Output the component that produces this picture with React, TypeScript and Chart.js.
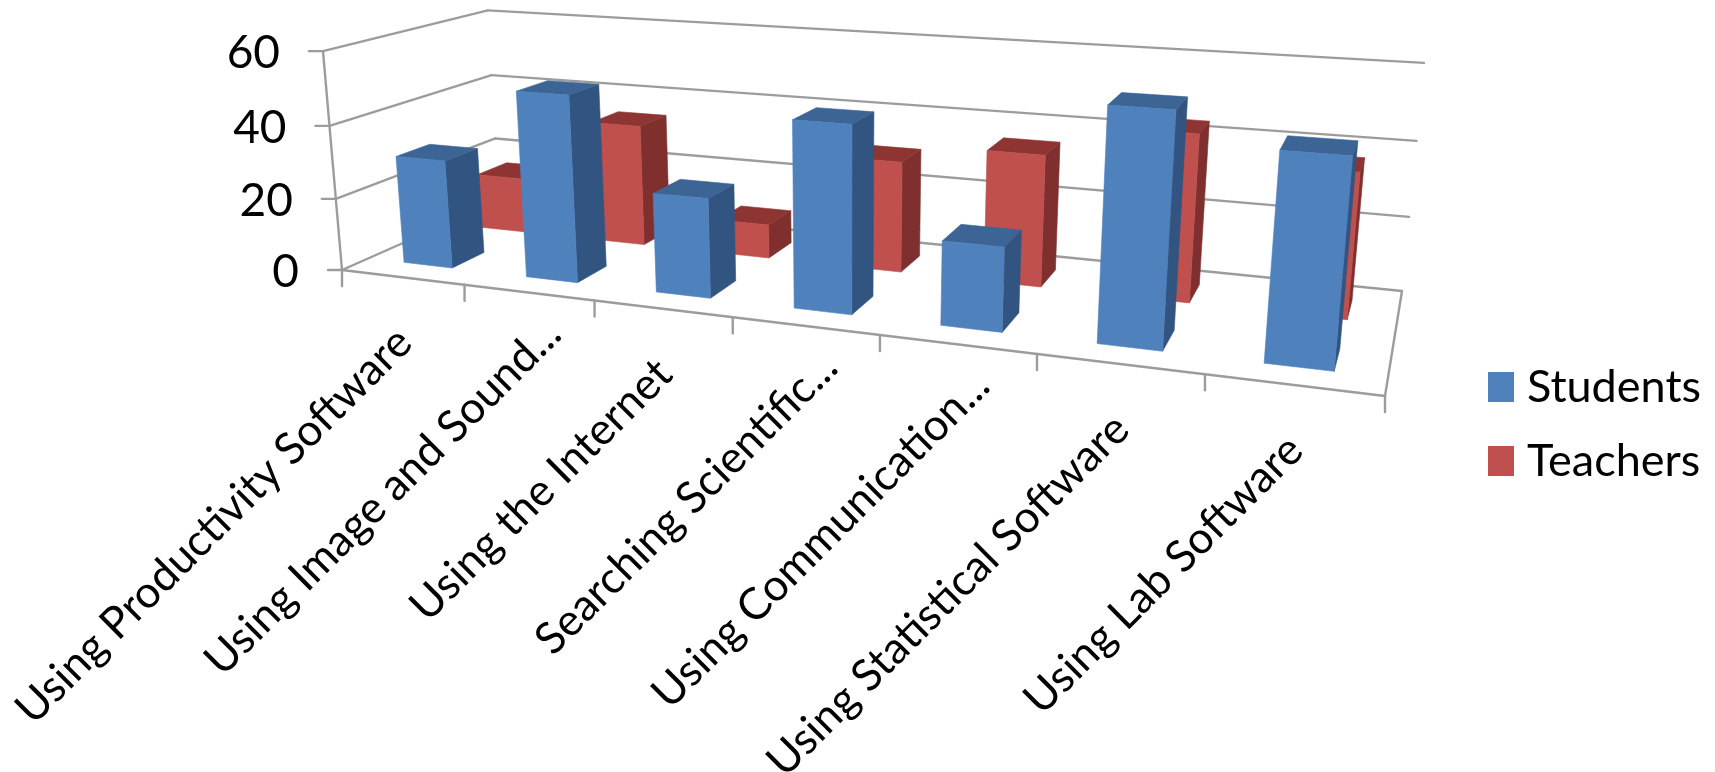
import React, { useEffect, useRef } from "react";
import { Chart, registerables } from "chart.js";

Chart.register(...registerables);

// Survey categories and the two series, percent on a 0-60 axis.
const categories = [
  "Using Productivity Software",
  "Using Image and Sound...",
  "Using the Internet",
  "Searching Scientific...",
  "Using Communication...",
  "Using Statistical Software",
  "Using Lab Software",
];
const students = [30, 50.5, 26.5, 48.5, 21.5, 57.5, 50];
const teachers = [16, 34.5, 9.5, 30.5, 35.5, 44, 37.5];
const yTicks = { min: 0, max: 60, step: 20 };

const FONT = "Lato";
const BLUE = { front: "#4F81BD", side: "#325480", top: "#3C6494" };
const RED = { front: "#C0504D", side: "#7F302E", top: "#8E3533" };
const AXIS = "#9C9C9C";

type P = [number, number];

// Camera: floor corners on screen (front-left, front-right, back-right,
// back-left), the vanishing point of the verticals and the height weight.
const FLOOR: P[] = [[342, 270], [1385, 396], [1402, 291], [499, 200.5]];
const VERTICAL_VP: P = [845, 6064];
const HEIGHT_W = -0.0364;
// Depth slots (0 = front wall, 1 = back wall) of each series row.
const ROWS = [{ v0: 0.15, v1: 0.35 }, { v0: 0.635, v1: 0.84 }];

// Unit square to quadrilateral homography, in homogeneous coordinates.
function squareToQuad(q: P[]) {
  const [[x0, y0], [x1, y1], [x2, y2], [x3, y3]] = q;
  const dx1 = x1 - x2, dx2 = x3 - x2, sx = x0 - x1 + x2 - x3;
  const dy1 = y1 - y2, dy2 = y3 - y2, sy = y0 - y1 + y2 - y3;
  const det = dx1 * dy2 - dx2 * dy1;
  const g = (sx * dy2 - dx2 * sy) / det;
  const h = (dx1 * sy - sx * dy1) / det;
  const a = x1 - x0 + g * x1, b = x3 - x0 + h * x3;
  const d = y1 - y0 + g * y1, e = y3 - y0 + h * y3;
  return (u: number, v: number) => [a * u + b * v + x0, d * u + e * v + y0, g * u + h * v + 1];
}
const floorAt = squareToQuad(FLOOR);

// (u along the categories, v into the depth, w up the value axis) to canvas pixels.
function project(u: number, v: number, w: number): P {
  const [X, Y, k] = floorAt(u, v);
  const t = HEIGHT_W * w;
  return [(X + t * VERTICAL_VP[0]) / (k + t), (Y + t * VERTICAL_VP[1]) / (k + t)];
}

function poly(ctx: CanvasRenderingContext2D, pts: P[], fill: string) {
  ctx.beginPath();
  pts.forEach((p, i) => (i ? ctx.lineTo(p[0], p[1]) : ctx.moveTo(p[0], p[1])));
  ctx.closePath();
  ctx.fillStyle = fill;
  ctx.strokeStyle = fill;
  ctx.lineWidth = 0.6;
  ctx.fill();
  ctx.stroke();
}

function seg(ctx: CanvasRenderingContext2D, a: P, b: P) {
  ctx.beginPath();
  ctx.moveTo(a[0], a[1]);
  ctx.lineTo(b[0], b[1]);
  ctx.stroke();
}

// Walls, floor, ticks and axis labels, all placed from the chart's scales.
const boxPlugin = {
  id: "box3d",
  beforeDatasetsDraw(chart: any) {
    const { ctx, chartArea: area, scales } = chart;
    const xs = scales.x;
    const ys = scales.y;
    const height = (val: number) => (area.bottom - ys.getPixelForValue(val)) / (area.bottom - area.top);
    const edgeU = (px: number) => (px - area.left) / (area.right - area.left);

    ctx.save();
    ctx.strokeStyle = AXIS;
    ctx.lineWidth = 2.4;
    ctx.lineCap = "round";

    // Value gridlines run along the side wall and the back wall.
    ys.ticks.forEach((t: any) => {
      const w = height(t.value);
      const a = project(0, 0, w);
      const b = project(0, 1, w);
      const c = project(1, 1, w);
      seg(ctx, a, b);
      seg(ctx, b, c);
      seg(ctx, [a[0] - 14, a[1]], a);
    });
    seg(ctx, project(0, 0, 0), project(0, 0, 1));

    // Floor outline.
    seg(ctx, project(0, 0, 0), project(1, 0, 0));
    seg(ctx, project(1, 0, 0), project(1, 1, 0));

    // Category separators hang below the front edge of the floor.
    const halfStep = (xs.getPixelForTick(1) - xs.getPixelForTick(0)) / 2;
    for (let i = 0; i <= xs.ticks.length; i++) {
      const px = i < xs.ticks.length ? xs.getPixelForTick(i) - halfStep : xs.getPixelForTick(i - 1) + halfStep;
      const p = project(edgeU(px), 0, 0);
      seg(ctx, p, [p[0], p[1] + 16]);
    }

    ctx.fillStyle = "#000";
    ctx.textBaseline = "middle";
    ctx.textAlign = "right";

    ctx.font = `46px ${FONT}`;
    ys.ticks.forEach((t: any) => {
      const p = project(0, 0, height(t.value));
      ctx.fillText(ys.getLabelForValue(t.value), p[0] - 43, p[1] + 2);
    });

    ctx.font = `44px ${FONT}`;
    xs.ticks.forEach((_: any, i: number) => {
      const label = String(xs.getLabelForValue(i));
      const p = project(edgeU(xs.getPixelForTick(i)), 0, 0);
      const cut = label.endsWith("...");
      ctx.save();
      ctx.translate(p[0] + (cut ? 25 : 2), p[1] + (cut ? 34 : 58));
      ctx.rotate(-Math.PI / 4);
      ctx.fillText(label, 0, 0);
      ctx.restore();
    });
    ctx.restore();
  },
  // The flat rectangles are replaced by extruded columns.
  beforeDatasetDraw() {
    return false;
  },
  afterDatasetsDraw(chart: any) {
    const { ctx, chartArea: area } = chart;
    const u = (px: number) => (px - area.left) / (area.right - area.left);
    const w = (px: number) => (area.bottom - px) / (area.bottom - area.top);
    const paints = [BLUE, RED];
    // Back row first so the front row overlaps it.
    for (let ds = chart.data.datasets.length - 1; ds >= 0; ds--) {
      const { v0, v1 } = ROWS[ds];
      const c = paints[ds];
      chart.getDatasetMeta(ds).data.forEach((bar: any) => {
        const { x, y, width } = bar.getProps(["x", "y", "width"], true);
        const u0 = u(x - width / 2);
        const u1 = u(x + width / 2);
        const h = w(y);
        poly(ctx, [project(u1, v0, 0), project(u1, v1, 0), project(u1, v1, h), project(u1, v0, h)], c.side);
        poly(ctx, [project(u0, v0, h), project(u1, v0, h), project(u1, v1, h), project(u0, v1, h)], c.top);
        poly(ctx, [project(u0, v0, 0), project(u1, v0, 0), project(u1, v0, h), project(u0, v0, h)], c.front);
      });
    }
  },
  // Series key to the right of the plot, set close to its swatches.
  afterDraw(chart: any) {
    const { ctx } = chart;
    ctx.save();
    ctx.font = `45px ${FONT}`;
    ctx.textBaseline = "middle";
    ctx.textAlign = "left";
    chart.data.datasets.forEach((ds: any, i: number) => {
      const top = 372 + i * 74;
      ctx.fillStyle = ds.backgroundColor;
      ctx.fillRect(1488, top, 26, 30);
      ctx.fillStyle = "#000";
      ctx.fillText(ds.label, 1527, top + 15);
    });
    ctx.restore();
  },
};

export default function App() {
  const ref = useRef<HTMLCanvasElement>(null);
  useEffect(() => {
    const chart = new Chart(ref.current as HTMLCanvasElement, {
      type: "bar",
      data: {
        labels: categories,
        datasets: [
          { label: "Students", data: students, backgroundColor: BLUE.front, borderWidth: 0 },
          { label: "Teachers", data: teachers, backgroundColor: RED.front, borderWidth: 0 },
        ],
      },
      options: {
        responsive: false,
        animation: false,
        devicePixelRatio: 1,
        datasets: { bar: { grouped: false, barPercentage: 0.4, categoryPercentage: 1 } },
        scales: {
          x: { display: false, ticks: { autoSkip: false } },
          y: { display: false, min: yTicks.min, max: yTicks.max, ticks: { stepSize: yTicks.step } },
        },
        plugins: {
          tooltip: { enabled: false },
          legend: { display: false },
        },
      },
      plugins: [boxPlugin],
    } as any);
    return () => chart.destroy();
  }, []);
  return (
    <canvas
      ref={ref}
      width={1715}
      height={772}
      style={{ position: "absolute", left: 0, top: 0, width: 1715, height: 772, background: "#fff" }}
    />
  );
}
